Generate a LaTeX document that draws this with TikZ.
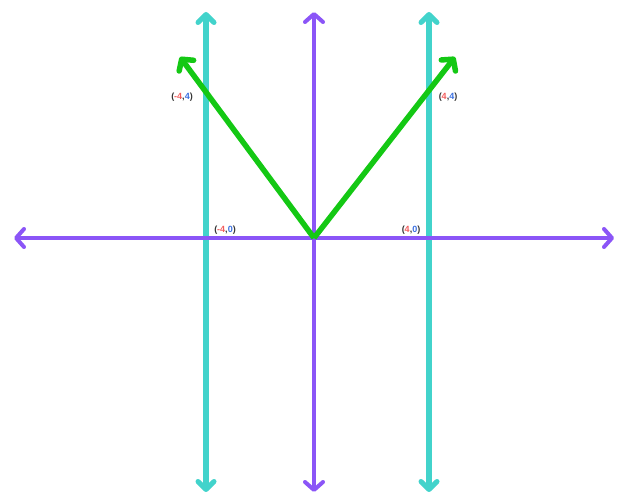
\documentclass[tikz,border=0pt]{standalone}
\usepackage{fontspec}
\setsansfont{Liberation Sans}
\usetikzlibrary{arrows.meta}
\definecolor{axpurple}{HTML}{8B55F7}
\definecolor{lteal}{HTML}{42D3CB}
\definecolor{vgreen}{HTML}{14C814}
\definecolor{lred}{HTML}{F25C5C}
\definecolor{lblue}{HTML}{3A6FE0}
\definecolor{lblack}{HTML}{333333}
\begin{document}
\begin{tikzpicture}[x=1pt,y=-1pt,
  axis/.style={draw=axpurple,line width=4pt,{Straight Barb[length=8pt,width=18pt,line width=4pt,round]}-{Straight Barb[length=8pt,width=18pt,line width=4pt,round]}},
  vline/.style={draw=lteal,line width=5.5pt,{Straight Barb[length=8pt,width=16pt,line width=5pt,round]}-{Straight Barb[length=8pt,width=16pt,line width=5pt,round]}},
  vec/.style={draw=vgreen,line width=5.5pt,-{Straight Barb[length=8pt,width=18pt,line width=5.5pt,round]}},
  lab/.style={font=\sffamily\bfseries\fontsize{9}{10}\selectfont,text=lblack,inner sep=0pt}]
\useasboundingbox (0,0) rectangle (627,492);
\coordinate (L) at (14,238);
\coordinate (R) at (614,238);
\coordinate (T) at (314,12);
\coordinate (B) at (314,492);
\coordinate (T1) at (206,12);
\coordinate (B1) at (206,492);
\coordinate (T2) at (429,12);
\coordinate (B2) at (429,492);
\coordinate (O) at (314,238);
\coordinate (P1) at (180,57);
\coordinate (P2) at (455,57);
\draw[vline] (B1) -- (T1);
\draw[vline] (B2) -- (T2);
\draw[axis] (L) -- (R);
\draw[axis] (B) -- (T);
\draw[vec] (O) -- (P1);
\draw[vec] (O) -- (P2);
\node[lab] (a) at (182,97) {(\textcolor{lred}{-4},\textcolor{lblue}{4})};
\node[lab] (b) at (448,97) {(\textcolor{lred}{4},\textcolor{lblue}{4})};
\node[lab] (c) at (225,230) {(\textcolor{lred}{-4},\textcolor{lblue}{0})};
\node[lab] (d) at (411,230) {(\textcolor{lred}{4},\textcolor{lblue}{0})};
\end{tikzpicture}
\end{document}
